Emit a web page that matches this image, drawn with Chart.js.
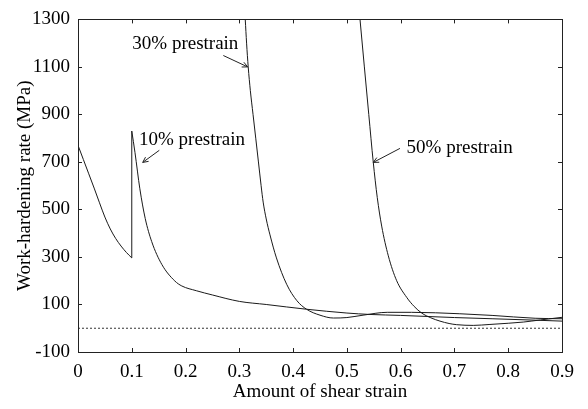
<!DOCTYPE html>
<html>
<head>
<meta charset="utf-8">
<script src="https://cdn.jsdelivr.net/npm/chart.js@4/dist/chart.umd.min.js"></script>
<style>
  html, body { margin: 0; padding: 0; background: #fff; }
  #wrap { width: 588px; height: 409px; }
</style>
</head>
<body>
<div id="wrap"><canvas id="c"></canvas></div>
<script>
// Axis ticks
const xTickLabels = ['0', '0.1', '0.2', '0.3', '0.4', '0.5', '0.6', '0.7', '0.8', '0.9'];
const yTickValues = [-100, 100, 300, 500, 700, 900, 1100, 1300];

// As-received loading up to 0.1 shear strain
const baseStrain = [0, 0.01, 0.02, 0.03, 0.04, 0.05, 0.06, 0.07, 0.08, 0.09, 0.1];
const baseRate   = [770, 710, 650, 590, 528, 468, 418, 378, 346, 319, 296];

// Reloading after 10% prestrain
const p10Strain = [0.1, 0.106, 0.115, 0.125, 0.137, 0.156, 0.18, 0.193, 0.22, 0.25, 0.3, 0.35, 0.425, 0.5, 0.543, 0.6, 0.7, 0.77, 0.85, 0.9];
const p10Rate   = [830, 739, 587, 462, 365, 268, 199, 178, 158, 140, 113, 100, 80, 64, 58, 54, 45, 40, 34, 30];

// Reloading after 30% prestrain
const p30Strain = [0.311, 0.3135, 0.3165, 0.3205, 0.3255, 0.3305, 0.3355, 0.3405, 0.3443, 0.35, 0.357, 0.369, 0.388, 0.407, 0.425, 0.45, 0.475, 0.5, 0.53, 0.575, 0.62, 0.71, 0.77, 0.85, 0.9];
const p30Rate   = [1300, 1200, 1100, 1000, 900, 800, 700, 600, 531, 460, 393, 296, 185, 116, 80, 55, 43, 45, 55, 67, 67, 61, 54, 42, 40];

// Reloading after 50% prestrain
const p50Strain = [0.5244, 0.5325, 0.5407, 0.549, 0.5565, 0.5647, 0.577, 0.5926, 0.6112, 0.625, 0.6391, 0.656, 0.6731, 0.69, 0.7042, 0.735, 0.766, 0.8, 0.828, 0.86, 0.9];
const p50Rate   = [1300, 1100, 900, 700, 550, 430, 305, 200, 130, 92, 64, 44, 30, 20, 15, 12, 16, 21, 26, 35, 46];

// Zero reference
const zeroStrain = [0, 0.9];
const zeroRate = [0, 0];

const toPts = (xs, ys) => xs.map((x, i) => ({ x: x, y: ys[i] }));

// Vertical reload segment at 0.1 strain, from the end of loading to the reload peak
const jumpPts = [
  { x: baseStrain[baseStrain.length - 1], y: baseRate[baseRate.length - 1] },
  { x: p10Strain[0], y: p10Rate[0] }
];

const SERIF = "'Liberation Serif', 'Times New Roman', Times, serif";
const LINE = '#1a1a1a';

// Callouts: label text with an arrow pointing at a curve (data coordinates)
const callouts = [
  { text: '30% prestrain', at: [0.101, 1196], from: [0.2702, 1148], to: [0.3155, 1100] },
  { text: '10% prestrain', at: [0.1134, 794], from: [0.1512, 749], to: [0.1203, 698] },
  { text: '50% prestrain', at: [0.611, 757], from: [0.5987, 757], to: [0.549, 698] }
];

const framePlugin = {
  id: 'frame',
  afterDatasetsDraw(chart) {
    const { ctx, chartArea: a, scales } = chart;
    const xs = scales.x, ys = scales.y;
    ctx.save();
    ctx.strokeStyle = '#222';
    ctx.lineWidth = 1;
    // box
    ctx.strokeRect(Math.round(a.left) + 0.5, Math.round(a.top) + 0.5,
                   Math.round(a.right - a.left), Math.round(a.bottom - a.top));
    // inward tick marks on all four sides
    const tl = 4;
    ctx.beginPath();
    xTickLabels.forEach(s => {
      const px = Math.round(xs.getPixelForValue(parseFloat(s))) + 0.5;
      ctx.moveTo(px, a.bottom); ctx.lineTo(px, a.bottom - tl);
      ctx.moveTo(px, a.top); ctx.lineTo(px, a.top + tl);
    });
    yTickValues.forEach(v => {
      const py = Math.round(ys.getPixelForValue(v)) + 0.5;
      ctx.moveTo(a.left, py); ctx.lineTo(a.left + tl, py);
      ctx.moveTo(a.right, py); ctx.lineTo(a.right - tl, py);
    });
    ctx.stroke();

    // callouts
    ctx.fillStyle = '#000';
    ctx.font = '19px ' + SERIF;
    ctx.textAlign = 'left';
    ctx.textBaseline = 'middle';
    callouts.forEach(c => {
      ctx.fillText(c.text, xs.getPixelForValue(c.at[0]), ys.getPixelForValue(c.at[1]));
      const x0 = xs.getPixelForValue(c.from[0]), y0 = ys.getPixelForValue(c.from[1]);
      const x1 = xs.getPixelForValue(c.to[0]), y1 = ys.getPixelForValue(c.to[1]);
      const ang = Math.atan2(y1 - y0, x1 - x0);
      const h = 6, spread = 0.45;
      ctx.beginPath();
      ctx.moveTo(x0, y0); ctx.lineTo(x1, y1);
      ctx.moveTo(x1, y1); ctx.lineTo(x1 - h * Math.cos(ang - spread), y1 - h * Math.sin(ang - spread));
      ctx.moveTo(x1, y1); ctx.lineTo(x1 - h * Math.cos(ang + spread), y1 - h * Math.sin(ang + spread));
      ctx.stroke();
    });
    ctx.restore();
  }
};

const curve = (data) => ({
  data: data,
  showLine: true,
  borderColor: LINE,
  borderWidth: 1,
  pointRadius: 0,
  cubicInterpolationMode: 'monotone',
  fill: false
});

new Chart(document.getElementById('c'), {
  type: 'scatter',
  data: {
    datasets: [
      Object.assign(curve(toPts(zeroStrain, zeroRate)), { borderDash: [2, 2], borderColor: '#333', cubicInterpolationMode: 'default', tension: 0 }),
      curve(toPts(baseStrain, baseRate)),
      Object.assign(curve(jumpPts), { cubicInterpolationMode: 'default', tension: 0 }),
      curve(toPts(p10Strain, p10Rate)),
      curve(toPts(p30Strain, p30Rate)),
      curve(toPts(p50Strain, p50Rate))
    ]
  },
  options: {
    responsive: true,
    maintainAspectRatio: false,
    animation: false,
    devicePixelRatio: 1,
    layout: { padding: { top: 15, right: 26, left: 0, bottom: 0 } },
    plugins: { legend: { display: false }, tooltip: { enabled: false } },
    scales: {
      x: {
        type: 'linear',
        min: 0,
        max: 0.9,
        afterBuildTicks: (s) => { s.ticks = xTickLabels.map(t => ({ value: parseFloat(t) })); },
        afterFit: (s) => { s.height = 57; },
        grid: { display: false, drawTicks: false },
        border: { display: false },
        ticks: {
          padding: 9,
          color: '#000',
          font: { family: SERIF, size: 19 },
          maxRotation: 0,
          callback: (v, i) => xTickLabels[i]
        },
        title: {
          display: true,
          text: 'Amount of shear strain',
          color: '#000',
          font: { family: SERIF, size: 19 },
          padding: { top: 0, bottom: 6 }
        }
      },
      y: {
        type: 'linear',
        min: -100,
        max: 1300,
        afterBuildTicks: (s) => { s.ticks = yTickValues.map(v => ({ value: v })); },
        afterFit: (s) => { s.width = 78; },
        grid: { display: false, drawTicks: false },
        border: { display: false },
        ticks: {
          padding: 8,
          color: '#000',
          font: { family: SERIF, size: 19 },
          callback: (v) => String(v)
        },
        title: {
          display: true,
          text: 'Work-hardening rate (MPa)',
          color: '#000',
          font: { family: SERIF, size: 19 },
          padding: { top: 14, bottom: 0 }
        }
      }
    }
  },
  plugins: [framePlugin]
});
</script>
</body>
</html>
